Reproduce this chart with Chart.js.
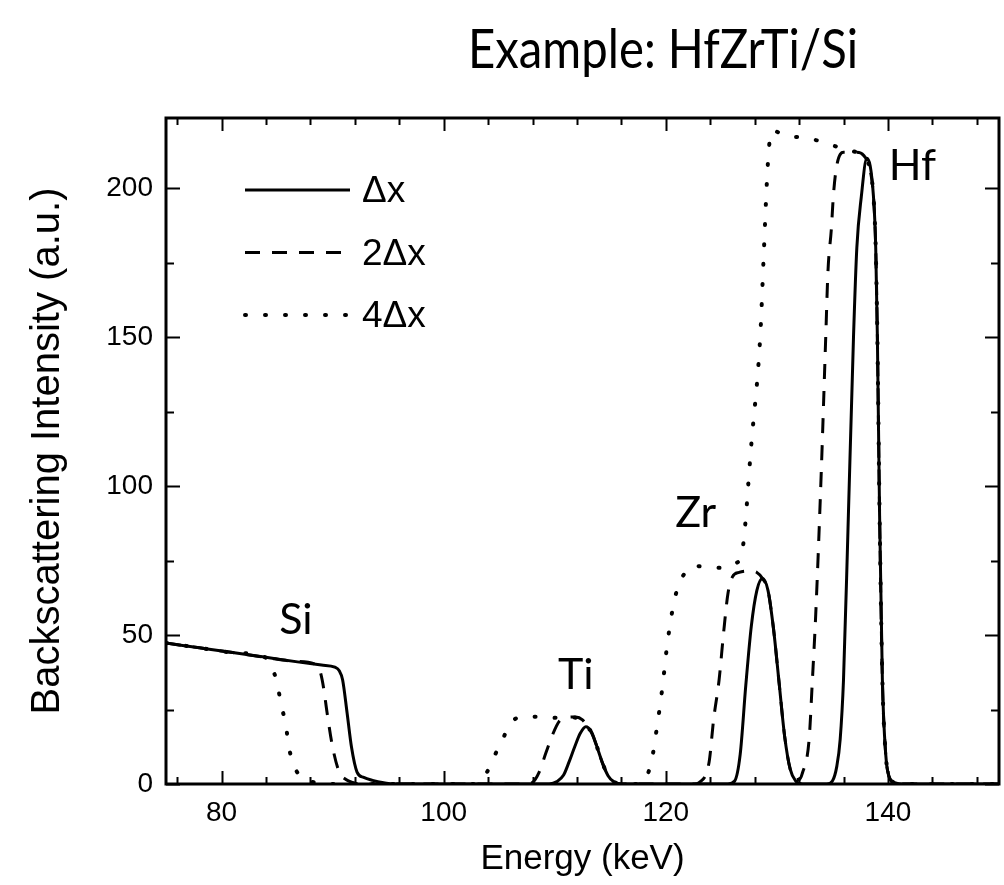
<!DOCTYPE html>
<html>
<head>
<meta charset="utf-8">
<script src="https://cdn.jsdelivr.net/npm/chart.js@4.4.0/dist/chart.umd.min.js"></script>
<style>
  html, body { margin: 0; padding: 0; background: #fff; }
</style>
</head>
<body>
<canvas id="myChart" width="1004" height="885"></canvas>
<script>
/* global Chart */

{
  'use strict';

  /* Data */

  // Δx
  const solidE = [75, 78, 81, 84, 87, 89, 90.2, 90.6, 90.9, 91.3, 91.7, 92.2, 92.8, 93.6, 94.6, 95.5,
    109.5, 110.2, 110.8, 111.3, 111.8, 112.3, 112.8, 113.3, 113.8, 114.3, 114.8, 115.3, 116,
    125.6, 126.2, 126.7, 127.2, 127.7, 128.2, 128.7, 129.2, 129.7, 130.2, 130.7, 131.2, 131.7, 132.3,
    134.5, 135.0, 135.4, 135.7, 136.0, 136.4, 136.9, 137.2, 137.6, 138.1, 138.7, 138.9, 139.05, 139.25,
    139.5, 139.8, 140.1, 140.6, 141.5, 150];
  const solidI = [47.3, 45.7, 44.1, 42.5, 40.9, 39.9, 39.2, 38.0, 35, 24, 12.4, 4, 2.2, 1.2, 0.4, 0,
    0, 0.8, 3, 7.5, 12.5, 17, 19.2, 17.5, 12.5, 7, 2.8, 0.8, 0,
    0, 1, 10, 33, 53, 65, 69, 65, 52, 34, 16, 5, 1, 0,
    0, 1, 6, 15, 35, 85, 150, 180, 197, 210, 197, 180, 150, 90,
    35, 10, 2.5, 0.5, 0, 0];

  // 2Δx
  const dashE = [75, 78, 81, 84, 86.5, 88.5, 88.9, 89.2, 89.5, 90.0, 90.6, 91.2, 91.8, 92.5,
    107.5, 108.0, 108.6, 109.2, 109.8, 110.4, 111.0, 111.9, 112.5, 113.0, 113.4, 113.8, 114.3, 114.8, 115.3, 116,
    122.6, 123.0, 123.9, 124.3, 124.8, 125.2, 125.6, 126.0, 126.6, 127.5, 128.2, 128.7, 129.2, 129.7,
    130.2, 130.7, 131.2, 131.7, 132.0, 132.3, 132.9, 133.2, 133.5, 134.0, 134.4, 134.6, 134.9, 135.1,
    135.4, 136.0, 137.2, 137.8, 138.4, 138.7, 138.9, 139.05, 139.25, 139.5, 139.8, 140.1, 140.6, 141.5, 150];
  const dashI = [47.3, 45.7, 44.1, 42.5, 41.2, 40.1, 37.5, 32, 24, 12.4, 4, 1.5, 0.5, 0,
    0, 0.5, 4, 10.4, 16.5, 21, 22.3, 22.5, 21.5, 19, 16.5, 12.5, 7, 2.8, 0.8, 0,
    0, 0.5, 7.4, 21.5, 35, 50.6, 64, 69.5, 71, 71.5, 71, 69, 65, 52,
    34, 16, 5, 1.5, 1.5, 3.7, 14.8, 35, 57, 105, 150, 172, 186, 198,
    207.7, 212, 212, 211, 206, 197, 180, 150, 90, 35, 10, 2.5, 0.5, 0, 0];

  // 4Δx
  const dotE = [75, 78, 81, 84, 84.5, 85.0, 85.4, 85.8, 86.0, 86.4, 87.0, 88.2, 89.5,
    102.8, 103.3, 103.9, 104.7, 105.3, 105.9, 107.0, 108.6, 110.1, 111.5, 112.4, 112.9, 113.3, 113.8,
    114.3, 114.8, 115.3, 116,
    117.5, 117.9, 118.7, 119.2, 119.7, 120.1, 120.6, 121.0, 121.5, 122.4, 123.9, 125.2, 126.3,
    126.9, 127.7, 128.5, 128.8, 129.1, 129.3, 129.6, 130.8, 132.3, 133.6, 134.9, 136.2, 137.2, 137.8,
    138.4, 138.7, 138.9, 139.05, 139.25, 139.5, 139.8, 140.1, 140.6, 141.5, 150];
  const dotI = [47.3, 45.7, 44.1, 42.4, 39.5, 33.9, 26, 19.8, 13.8, 7.4, 3, 0.7, 0,
    0, 1.5, 4, 10.4, 14.8, 19.8, 22.5, 22.6, 22.2, 22.3, 21.5, 19, 17.5, 12.5,
    7, 2.8, 0.8, 0,
    0, 0.5, 7.4, 19, 32.6, 46, 58.4, 65, 69.5, 73.2, 72.8, 72.5, 74,
    78.5, 114, 150, 176, 202, 214, 219.3, 217.5, 217, 216, 214.5, 212.8, 212, 211,
    206, 197, 180, 150, 90, 35, 10, 2.5, 0.5, 0, 0];

  const xLabels = [80, 100, 120, 140];
  const yLabels = [0, 50, 100, 150, 200];

  const peakNames = ['Si', 'Ti', 'Zr', 'Hf'];
  const peakE = [86.7, 111.9, 122.7, 142.2];
  const peakI = [55, 36.6, 91, 207.4];

  function toPoints(xs, ys) {
    return xs.map(function(x, i) { return {x: x, y: ys[i]}; });
  }

  const sans = 'Liberation Sans, Arial, sans-serif';
  const slide = 'Lato, Open Sans, sans-serif';

  /* Plugins */

  // box round the plot with inward ticks on all four sides
  const framePlugin = {
    id: 'frame',
    afterDraw(chart) {
      const {ctx, chartArea: a} = chart;
      const x = chart.scales.x;
      const y = chart.scales.y;
      ctx.save();
      ctx.strokeStyle = '#000';
      ctx.lineWidth = 2;
      ctx.beginPath();
      x.ticks.forEach(function(t) {
        const px = Math.round(x.getPixelForValue(t.value)) + 0.5;
        const len = xLabels.includes(t.value) ? 13 : 7;
        ctx.moveTo(px, a.bottom); ctx.lineTo(px, a.bottom - len);
        ctx.moveTo(px, a.top); ctx.lineTo(px, a.top + len);
      });
      y.ticks.forEach(function(t) {
        const py = Math.round(y.getPixelForValue(t.value)) + 0.5;
        const len = yLabels.includes(t.value) ? 14 : 8;
        ctx.moveTo(a.left, py); ctx.lineTo(a.left + len, py);
        ctx.moveTo(a.right, py); ctx.lineTo(a.right - len, py);
      });
      ctx.stroke();
      ctx.lineWidth = 3;
      ctx.strokeRect(a.left, a.top, a.right - a.left, a.bottom - a.top);

      // element names
      ctx.fillStyle = '#000';
      ctx.font = '43px ' + slide;
      ctx.textAlign = 'center';
      ctx.textBaseline = 'middle';
      peakNames.forEach(function(name, i) {
        ctx.fillText(name, x.getPixelForValue(peakE[i]), y.getPixelForValue(peakI[i]));
      });

      // legend
      ctx.font = '37px ' + sans;
      ctx.textAlign = 'left';
      chart.data.datasets.forEach(function(ds, i) {
        const ly = 190 + i * 62.5;
        ctx.lineWidth = ds.borderWidth;
        ctx.lineCap = ds.borderCapStyle || 'butt';
        ctx.setLineDash(ds.borderDash || []);
        ctx.beginPath();
        ctx.moveTo(245, ly); ctx.lineTo(350, ly);
        ctx.stroke();
        ctx.setLineDash([]);
        ctx.fillText(ds.label, 362, ly + 2);
      });

      // slide title, squeezed a little to the narrower original face
      const title = 'Example: HfZrTi/Si';
      ctx.font = '55px ' + slide;
      ctx.textAlign = 'center';
      ctx.textBaseline = 'alphabetic';
      const sx = 390 / ctx.measureText(title).width;
      ctx.translate(663, 68);
      ctx.scale(sx, 1);
      ctx.fillText(title, 0, 0);
      ctx.restore();
    }
  };

  /* Chart */

  const ctx = document.getElementById('myChart').getContext('2d');

  const chart = new Chart(ctx, {
    type: 'line',
    data: {
      datasets: [{
        label: 'Δx',
        data: toPoints(solidE, solidI),
        borderColor: '#000',
        borderWidth: 3,
      },
      {
        label: '2Δx',
        data: toPoints(dashE, dashI),
        borderColor: '#000',
        borderWidth: 3,
        borderDash: [15, 12],
      },
      {
        label: '4Δx',
        data: toPoints(dotE, dotI),
        borderColor: '#000',
        borderWidth: 4,
        borderDash: [1, 19],
        borderCapStyle: 'round',
      }]
    },
    options: {
      responsive: false,
      animation: false,
      layout: {padding: {top: 118, right: 5, left: 0, bottom: 0}},
      elements: {
        point: {radius: 0},
        line: {cubicInterpolationMode: 'monotone', fill: false},
      },
      plugins: {
        legend: {display: false},
        tooltip: {enabled: false},
      },
      scales: {
        x: {
          type: 'linear',
          min: 75,
          max: 150,
          afterFit(s) { s.height = 101; },
          grid: {display: false, drawTicks: false},
          border: {display: false},
          ticks: {
            stepSize: 4,
            includeBounds: false,
            autoSkip: false,
            maxRotation: 0,
            padding: 12,
            color: '#000',
            font: {family: sans, size: 28},
            callback: function(v) { return xLabels.includes(v) ? v : ''; },
          },
          title: {
            display: true,
            text: 'Energy (keV)',
            color: '#000',
            font: {family: sans, size: 35},
            padding: {top: 0, bottom: 5},
          },
        },
        y: {
          min: 0,
          max: 223.5,
          afterFit(s) { s.width = 166; },
          grid: {display: false, drawTicks: false},
          border: {display: false},
          ticks: {
            stepSize: 25,
            includeBounds: false,
            autoSkip: false,
            padding: 13,
            color: '#000',
            font: {family: sans, size: 28},
            callback: function(v) { return yLabels.includes(v) ? v : ''; },
          },
          title: {
            display: true,
            text: 'Backscattering Intensity (a.u.)',
            color: '#000',
            font: {family: sans, size: 40},
            padding: {top: 24, bottom: 0},
          },
        },
      },
    },
    plugins: [framePlugin],
  });
  console.log(chart.chartArea);
}
</script>
</body>
</html>
